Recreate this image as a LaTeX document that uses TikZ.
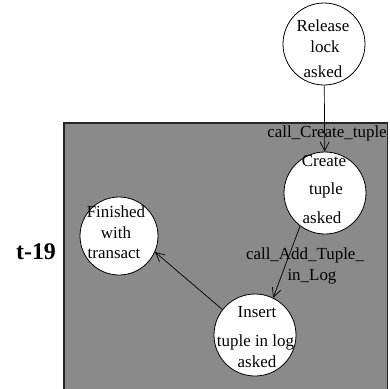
\documentclass[tikz,border=0pt]{standalone}
\usepackage{fontspec}
\setmainfont{Liberation Serif}
\usetikzlibrary{arrows.meta}
\definecolor{boxgray}{RGB}{138,138,138}
\begin{document}
\begin{tikzpicture}[x=1bp,y=-1bp,
  state/.style={circle,draw=black,fill=white,line width=0.8bp,minimum size=82bp,inner sep=0pt},
  txt/.style={anchor=base,font=\fontsize{17}{20}\selectfont,inner sep=0pt},
  trans/.style={draw=black,line width=0.7bp,-{Straight Barb[length=9bp,width=9bp]}}
]
\useasboundingbox (0,0) rectangle (390,389);
\filldraw[fill=boxgray,draw=black!85,line width=1.5bp] (64,123) rectangle (387.5,392);
\node[state] (rl) at (324,44) {};
\node[state] (ct) at (325,193) {};
\node[state,minimum size=78bp] (fw) at (119,236) {};
\node[state] (it) at (255,335) {};
% texts in states
\node[txt] (rla) at (323,31) {Release};
\node[txt] (rlb) at (325,52) {lock};
\node[txt] (rlc) at (323,77) {asked};
\node[txt] (cta) at (324,166) {Create};
\node[txt] (ctb) at (326,194) {tuple};
\node[txt] (ctc) at (322,223) {asked};
\node[txt] (fwa) at (116,217) {Finished};
\node[txt] (fwb) at (116,238) {with};
\node[txt] (fwc) at (114,258) {transact};
\node[txt] (ita) at (257,317) {Insert};
\node[txt] (itb) at (255.5,346) {tuple in log};
\node[txt] (itc) at (257,367) {asked};
% transitions
\draw[trans] (rl) -- (ct);
\draw[trans] (ct.-127) -- (it.64);
\draw[trans] (it.142) -- (fw.-24);
% labels
\node[txt] (l1) at (327,137) {call\_Create\_tuple};
\node[txt] (l2a) at (305,259) {call\_Add\_Tuple\_};
\node[txt] (l2b) at (312,280) {in\_Log};
\node[txt,font=\fontsize{24}{28}\selectfont\bfseries] (t19) at (36,259) {t-19};
\end{tikzpicture}
\end{document}
